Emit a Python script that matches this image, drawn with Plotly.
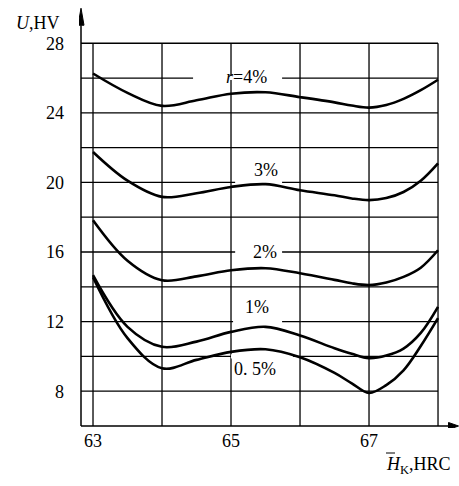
import plotly.graph_objects as go

# ---- data ----
hardness = [63, 63.5, 64, 64.5, 65, 65.5, 66, 66.5, 66.75, 67, 67.25, 67.5, 67.75, 68]
u_r4 = [26.26, 25.15, 24.4, 24.72, 25.1, 25.18, 24.9, 24.6, 24.42, 24.3, 24.45, 24.8, 25.3, 25.9]
u_r3 = [21.75, 20.1, 19.17, 19.38, 19.74, 19.9, 19.55, 19.26, 19.08, 18.98, 19.1, 19.45, 20.1, 21.1]
u_r2 = [17.83, 15.5, 14.38, 14.6, 14.95, 15.07, 14.78, 14.4, 14.2, 14.1, 14.25, 14.57, 15.1, 16.1]
u_r1 = [14.67, 11.7, 10.55, 10.85, 11.41, 11.7, 11.2, 10.47, 10.15, 9.9, 10.05, 10.45, 11.35, 12.85]
u_r05 = [14.55, 11.05, 9.32, 9.8, 10.26, 10.41, 9.95, 9.05, 8.45, 7.9, 8.35, 9.2, 10.6, 12.2]

series = [u_r4, u_r3, u_r2, u_r1, u_r05]
curve_labels = ["<i>r</i>=4%", "3%", "2%", "1%", "0. 5%"]
label_x = [65.23, 65.51, 65.49, 65.38, 65.35]
label_y = [26.05, 20.7, 16.0, 12.83, 9.3]
gap_y = [26, 20, 16, 12, 10]
gap_x0 = [64.45, 65.06, 65.06, 65.03, 65.0]
gap_x1 = [65.74, 65.74, 65.74, 65.74, 65.9]

x_grid = [63, 64, 65, 66, 67, 68]
y_grid = [8, 10, 12, 14, 16, 18, 20, 22, 24, 26, 28]
x_ticks = [63, 65, 67]
y_ticks = [8, 12, 16, 20, 24, 28]

# ---- layout geometry ----
W, H = 459, 486
ML, MR, MT, MB = 79, 0, 6, 58
XR = [62.797, 68.304]
YR = [5.885, 30.14]
pxx = (W - ML - MR) / (XR[1] - XR[0])
pxy = (H - MT - MB) / (YR[1] - YR[0])
AX_X = 62.826
AX_Y = 6.0
FONT = "Liberation Serif"

fig = go.Figure()
for s in series:
    fig.add_trace(go.Scatter(x=hardness, y=s, mode="lines",
                             line=dict(color="black", width=2.6, shape="spline", smoothing=1.0),
                             showlegend=False, hoverinfo="skip"))

shapes = []
gl = dict(color="black", width=1.3)
for yv in y_grid:
    shapes.append(dict(type="line", xref="x", yref="y", x0=AX_X, x1=68, y0=yv, y1=yv,
                       line=gl, layer="below"))
for xv in x_grid:
    shapes.append(dict(type="line", xref="x", yref="y", x0=xv, x1=xv, y0=AX_Y, y1=28,
                       line=gl, layer="below"))
# white gaps behind curve labels
for gy, a, b in zip(gap_y, gap_x0, gap_x1):
    shapes.append(dict(type="rect", xref="x", yref="y", x0=a, x1=b, y0=gy - 0.12, y1=gy + 0.12,
                       fillcolor="white", line=dict(width=0), layer="below"))

# axes with arrows
y_tip = 28 + 35 / pxy
y_hl = 17 / pxy
y_hw = 3 / pxx
shapes.append(dict(type="line", xref="x", yref="y", x0=AX_X, x1=AX_X, y0=AX_Y, y1=y_tip - y_hl,
                   line=dict(color="black", width=1.5)))
shapes.append(dict(type="path", xref="x", yref="y",
                   path=f"M {AX_X - y_hw} {y_tip - y_hl} L {AX_X} {y_tip} L {AX_X + y_hw} {y_tip - y_hl} Z",
                   fillcolor="black", line=dict(color="black", width=1)))
x_tip = 68 + 20.5 / pxx
x_hl = 10 / pxx
x_hw = 3.5 / pxy
shapes.append(dict(type="line", xref="x", yref="y", x0=AX_X, x1=x_tip - x_hl, y0=AX_Y, y1=AX_Y,
                   line=dict(color="black", width=1.5)))
shapes.append(dict(type="path", xref="x", yref="y",
                   path=f"M {x_tip - x_hl} {AX_Y - x_hw} L {x_tip} {AX_Y} L {x_tip - x_hl} {AX_Y + x_hw} Z",
                   fillcolor="black", line=dict(color="black", width=1)))
# overline on H of x-axis title
shapes.append(dict(type="line", xref="paper", yref="paper",
                   x0=(386 - ML) / (W - ML - MR), x1=(395 - ML) / (W - ML - MR),
                   y0=(H - MB - 453) / (H - MT - MB), y1=(H - MB - 453) / (H - MT - MB),
                   line=dict(color="black", width=1)))

annotations = []
for t, lx, ly in zip(curve_labels, label_x, label_y):
    annotations.append(dict(x=lx, y=ly, xref="x", yref="y", text=t, showarrow=False,
                            xanchor="center", yanchor="middle",
                            font=dict(family=FONT, size=18, color="black")))
annotations.append(dict(x=(38 - ML) / (W - ML - MR), y=(H - MB - 23) / (H - MT - MB),
                        xref="paper", yref="paper", text="<i>U</i>,HV", showarrow=False,
                        xanchor="center", yanchor="middle",
                        font=dict(family=FONT, size=18, color="black")))
annotations.append(dict(x=(418 - ML) / (W - ML - MR), y=(H - MB - 465) / (H - MT - MB),
                        xref="paper", yref="paper", text="<i>H</i><sub>K</sub>,HRC", showarrow=False,
                        xanchor="center", yanchor="middle",
                        font=dict(family=FONT, size=18, color="black")))

fig.update_layout(
    width=W, height=H, margin=dict(l=ML, r=MR, t=MT, b=MB, autoexpand=False),
    paper_bgcolor="white", plot_bgcolor="white",
    shapes=shapes, annotations=annotations, showlegend=False,
    xaxis=dict(range=XR, tickvals=x_ticks, ticktext=[str(v) for v in x_ticks],
               showgrid=False, zeroline=False, showline=False, ticks="", automargin=False,
               tickfont=dict(family=FONT, size=18, color="black"), fixedrange=True),
    yaxis=dict(range=YR, tickvals=y_ticks, ticktext=[str(v) for v in y_ticks],
               showgrid=False, zeroline=False, showline=False, ticks="", automargin=False,
               ticklabelstandoff=14,
               tickfont=dict(family=FONT, size=18, color="black"), fixedrange=True),
)

fig.write_html("out.html", config={"displayModeBar": False},
               post_script="document.body.style.margin='0';document.body.style.overflow='hidden';")
